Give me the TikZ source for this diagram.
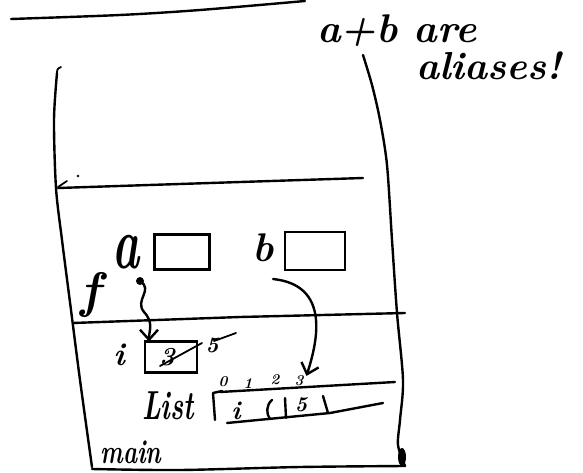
\documentclass[tikz,border=0pt]{standalone}
\usepackage{graphicx}
\usetikzlibrary{arrows.meta}
\begin{document}
\begin{tikzpicture}[x=1pt,y=-1pt,
  ink/.style={line width=2.4pt, line cap=round, line join=round},
  thinink/.style={line width=1.8pt, line cap=round, line join=round},
  hand/.style={inner sep=0pt, outer sep=0pt, font=\bfseries\itshape},
  varbox/.style={draw, line width=2.4pt, inner sep=0pt, outer sep=0pt},
  barb/.style={-{Straight Barb[length=10pt,width=18pt,line width=2.4pt]}},
]
\useasboundingbox (0,0) rectangle (583,473);

% top underline (title cut off)
\draw[ink] plot[smooth] coordinates {(11,19) (120,15) (200,10) (305,1)};

% note
\node[hand, anchor=base west] (note1) at (317,43) {\fontsize{40}{40}\selectfont a+b are};
\node[hand, anchor=base west] (note2) at (416,80) {\fontsize{39}{39}\selectfont aliases!};

% outer frame
\draw[thinink] (57,75) .. controls (57,69) .. (61,67);
\draw[ink] plot[smooth] coordinates {(57,73) (54,120) (56,188) (62,240) (71,310) (80,380) (92,467)};
\draw[ink] plot[smooth] coordinates {(92,469) (180,470) (300,467) (405,466)};
\draw[ink] plot[smooth] coordinates {(363,55) (372,85) (380,120) (387,165) (392,240) (397,313) (403,380) (400,420) (398,445) (405,466)};
\fill (402,457) ellipse (4 and 9);

% separators
\draw[ink] (58,188) -- (210,183) -- (363,178);
\draw[thinink] (58,187) -- (67,181);
\fill (78,176) circle (1.3);
\draw[ink] (73,323) -- (240,317) -- (405,313);

% frame f
\node[hand] (f) at (90,295) {\fontsize{50}{50}\selectfont f};
\node[hand] (a) at (126,252) {\scalebox{1}[1.6]{\fontsize{46}{46}\selectfont a}};
\node[varbox, minimum width=55pt, minimum height=35pt] (abox) at (182,252) {};
\node[hand] (b) at (263,248) {\fontsize{40}{40}\selectfont b};
\node[varbox, minimum width=60pt, minimum height=38pt] (bbox) at (315,251) {};

% frame main
\node[hand] (ilabel) at (119,355) {\fontsize{32}{32}\selectfont i};
\node[varbox, minimum width=52pt, minimum height=31pt] (ibox) at (171,357) {};
\node[hand] (three) at (167,357) {\fontsize{26}{26}\selectfont 3};
\draw[thinink] (160,366) -- (202,343);
\node[hand] (five) at (212,345) {\fontsize{22}{22}\selectfont 5};
\draw[thinink] (214,341) -- (236,333);

\node[hand] (list) at (168,406) {\scalebox{1}[1.5]{\fontsize{27}{27}\selectfont List}};
\draw[ink] (215,420) -- (213,393) -- (222,391);
\draw[ink] (220,392) -- (395,382);
\draw[ink] (227,423) -- (330,413) -- (383,403);
\draw[ink] (272,400) .. controls (266,405) and (266,414) .. (270,419);
\draw[ink] (285,398) -- (286,418);
\draw[ink] (323,396) -- (328,413);
\node[hand] (celli) at (236,411) {\fontsize{26}{26}\selectfont i};
\node[hand] (cell5) at (301,405) {\fontsize{21}{21}\selectfont 5};
\node[hand] (idx0) at (223,382) {\fontsize{15}{15}\selectfont 0};
\node[hand] (idx1) at (248,384) {\fontsize{15}{15}\selectfont 1};
\node[hand] (idx2) at (275,380) {\fontsize{15}{15}\selectfont 2};
\node[hand] (idx3) at (299,381) {\fontsize{15}{15}\selectfont 3};
\node[hand] (main) at (131,452) {\scalebox{1}[1.4]{\fontsize{24}{24}\selectfont main}};

% aliases
\coordinate (adot) at (140,281);
\fill (adot) circle (4);
\draw[ink, barb] (adot) .. controls (154,290) and (134,300) .. (144,312) .. controls (154,323) and (149,330) .. ([xshift=4pt]ibox.north west);
\coordinate (bstart) at (273,279);
\draw[ink, barb] (bstart) .. controls (330,285) and (318,340) .. ([xshift=3pt]idx3.north east);
\end{tikzpicture}
\end{document}
